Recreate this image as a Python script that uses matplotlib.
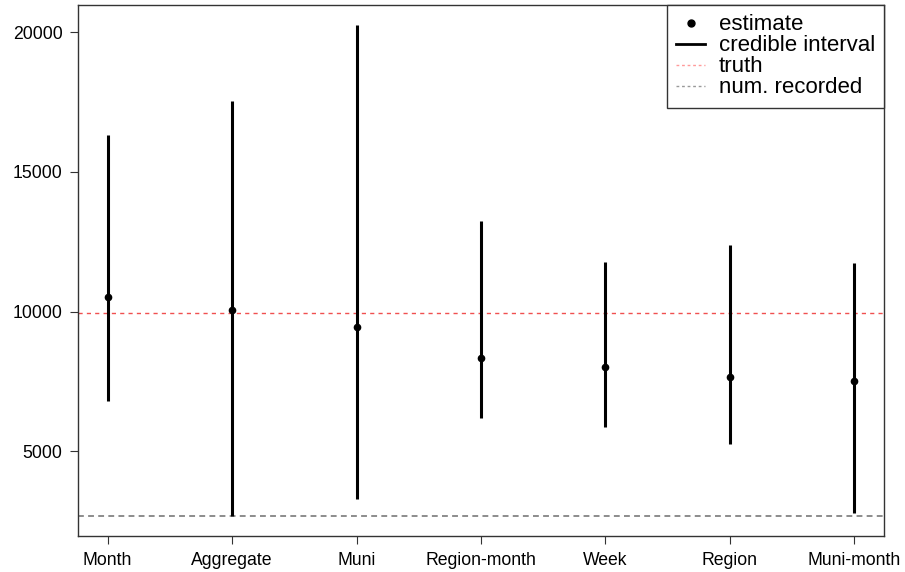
import matplotlib
matplotlib.use("Agg")
import matplotlib.pyplot as plt
from matplotlib.lines import Line2D

plt.rcParams['font.family'] = ['Liberation Sans', 'DejaVu Sans']

# values
models = ["Month", "Aggregate", "Muni", "Region-month", "Week", "Region", "Muni-month"]
estimate = [10530, 10070, 9430, 8335, 8025, 7645, 7525]
lower = [6810, 2680, 3300, 6190, 5870, 5240, 2775]
upper = [16310, 17540, 20275, 13240, 11785, 12380, 11730]
truth = 9965
num_recorded = 2680

fig = plt.figure(figsize=(9.05, 5.72), dpi=100)
ax = fig.add_axes([0.0859, 0.0635, 0.8912, 0.9278])

x = list(range(1, len(models) + 1))
ax.vlines(x, lower, upper, color="black", lw=2.2, zorder=3)
ax.plot(x, estimate, "o", color="black", ms=4.5, zorder=4)
ax.axhline(truth, color="#f05050", lw=1, dashes=(3, 3), zorder=2)
ax.axhline(num_recorded, color="#8c8c8c", lw=1.4, dashes=(3, 2.2), zorder=2)

ax.set_xlim(0.76, 7.24)
ax.set_ylim(1975, 20975)
ax.set_xticks(x)
ax.set_xticklabels(models)
ax.set_yticks([5000, 10000, 15000, 20000])
ax.tick_params(labelsize=12.7, length=6, width=0.8, colors="#333333",
               labelcolor="black", pad=5)
ax.tick_params(axis="x", pad=6)
for s in ax.spines.values():
    s.set_linewidth(1)
    s.set_color("#333333")

handles = [
    Line2D([], [], ls="none", marker="o", color="black", ms=5),
    Line2D([], [], color="black", lw=2),
    Line2D([], [], color="#ff9a9a", lw=1, dashes=(2, 2)),
    Line2D([], [], color="#999999", lw=1, dashes=(2, 2)),
]
labels = ["estimate", "credible interval", "truth", "num. recorded"]
leg = ax.legend(handles, labels, loc="upper right", bbox_to_anchor=(1, 1),
                borderaxespad=0, fancybox=False, fontsize=16,
                handlelength=1.3, handletextpad=0.6, labelspacing=0.0,
                borderpad=0.42, framealpha=1)
leg.get_frame().set_edgecolor("#333333")
leg.get_frame().set_linewidth(1)

fig.savefig("out.png", dpi=100)
